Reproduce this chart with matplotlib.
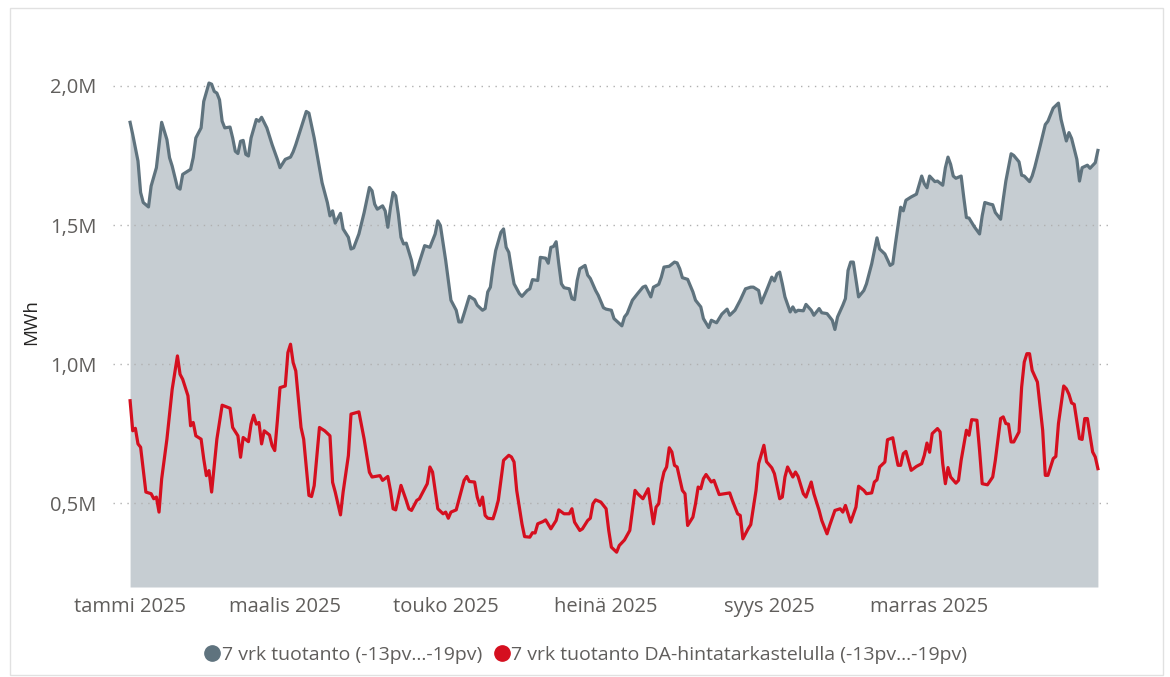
import numpy as np
import pandas as pd
import matplotlib
matplotlib.use('Agg')
import matplotlib.pyplot as plt
import matplotlib.dates as mdates
from matplotlib.lines import Line2D
from matplotlib.patches import Rectangle

# päivät vuoden 2025 alusta, arvot miljoonina MWh
total_days = [0, 1, 3, 4, 5, 7, 8, 10, 11, 12, 14, 15, 16, 18, 19, 20, 22, 23, 24, 25,
              27, 28, 30, 31, 32, 33, 34, 35, 36, 38, 39, 40, 41, 42, 43, 44, 45, 46, 48, 49,
              50, 52, 54, 56, 57, 59, 61, 62, 63, 65, 67, 68, 70, 73, 75, 76, 77, 78, 80, 81,
              83, 84, 85, 87, 89, 90, 91, 92, 93, 94, 96, 97, 98, 99, 100, 101, 102, 103, 104, 105,
              107, 108, 109, 110, 112, 114, 116, 117, 118, 120, 121, 122, 124, 125, 126, 127, 129, 131, 132, 134,
              135, 136, 137, 138, 139, 141, 142, 143, 144, 145, 146, 148, 149, 151, 152, 153, 155, 156, 158, 159,
              160, 161, 162, 163, 164, 165, 167, 168, 169, 170, 171, 173, 174, 175, 177, 178, 180, 181, 183, 184,
              187, 188, 189, 191, 193, 195, 196, 198, 199, 201, 202, 203, 205, 207, 208, 209, 210, 212, 214, 215,
              217, 218, 220, 221, 223, 225, 227, 228, 230, 232, 234, 236, 237, 239, 240, 242, 244, 245, 246, 247,
              248, 249, 251, 252, 253, 254, 256, 257, 259, 260, 262, 263, 265, 267, 268, 269, 271, 272, 273, 274,
              275, 277, 279, 280, 282, 284, 285, 287, 289, 290, 291, 293, 294, 295, 297, 299, 301, 302, 303, 304,
              306, 307, 309, 310, 311, 312, 313, 314, 316, 317, 318, 319, 321, 323, 324, 325, 327, 328, 329, 331,
              332, 333, 335, 336, 338, 339, 340, 342, 343, 344, 346, 348, 349, 351, 353, 354, 356, 357, 358, 360,
              361, 362, 364, 365, 367, 368]
total_values = [1.869, 1.825, 1.730, 1.617, 1.581, 1.565, 1.640, 1.706, 1.789, 1.869, 1.807, 1.742, 1.712, 1.635, 1.629, 1.682, 1.694, 1.700, 1.742, 1.813,
                1.849, 1.944, 2.010, 2.006, 1.980, 1.974, 1.950, 1.873, 1.849, 1.852, 1.813, 1.765, 1.757, 1.801, 1.804, 1.754, 1.748, 1.813, 1.879, 1.873,
                1.887, 1.849, 1.789, 1.736, 1.706, 1.736, 1.744, 1.763, 1.789, 1.849, 1.908, 1.902, 1.813, 1.652, 1.581, 1.533, 1.551, 1.507, 1.542, 1.486,
                1.456, 1.414, 1.418, 1.468, 1.545, 1.590, 1.635, 1.623, 1.575, 1.557, 1.569, 1.551, 1.492, 1.563, 1.617, 1.605, 1.539, 1.456, 1.432, 1.435,
                1.373, 1.321, 1.337, 1.367, 1.426, 1.420, 1.468, 1.515, 1.498, 1.373, 1.301, 1.230, 1.194, 1.152, 1.152, 1.182, 1.244, 1.232, 1.212, 1.194,
                1.200, 1.260, 1.277, 1.349, 1.408, 1.474, 1.486, 1.420, 1.402, 1.343, 1.289, 1.254, 1.244, 1.265, 1.271, 1.304, 1.301, 1.384, 1.381, 1.363,
                1.420, 1.423, 1.440, 1.361, 1.289, 1.275, 1.271, 1.236, 1.232, 1.301, 1.343, 1.355, 1.320, 1.308, 1.265, 1.248, 1.203, 1.198, 1.194, 1.164,
                1.138, 1.170, 1.182, 1.230, 1.254, 1.277, 1.281, 1.242, 1.277, 1.287, 1.313, 1.349, 1.352, 1.367, 1.364, 1.343, 1.311, 1.305, 1.260, 1.230,
                1.206, 1.164, 1.132, 1.158, 1.149, 1.180, 1.198, 1.176, 1.194, 1.230, 1.271, 1.277, 1.277, 1.265, 1.220, 1.265, 1.313, 1.299, 1.325, 1.331,
                1.289, 1.242, 1.188, 1.206, 1.188, 1.194, 1.192, 1.215, 1.194, 1.176, 1.200, 1.185, 1.182, 1.158, 1.125, 1.170, 1.212, 1.236, 1.337, 1.367,
                1.367, 1.242, 1.265, 1.289, 1.361, 1.454, 1.414, 1.396, 1.355, 1.361, 1.432, 1.564, 1.551, 1.589, 1.601, 1.611, 1.676, 1.648, 1.634, 1.676,
                1.656, 1.658, 1.643, 1.706, 1.744, 1.718, 1.676, 1.668, 1.676, 1.599, 1.527, 1.525, 1.494, 1.468, 1.533, 1.581, 1.575, 1.573, 1.545, 1.521,
                1.592, 1.658, 1.756, 1.750, 1.727, 1.679, 1.676, 1.656, 1.676, 1.708, 1.783, 1.861, 1.873, 1.920, 1.938, 1.879, 1.802, 1.832, 1.811, 1.736,
                1.658, 1.706, 1.715, 1.704, 1.724, 1.768]

da_days = [0, 1, 2, 3, 4, 6, 8, 9, 10, 11, 12, 14, 16, 18, 19, 20, 22, 23, 24, 25,
           27, 28, 29, 30, 31, 33, 35, 38, 39, 41, 42, 43, 45, 46, 47, 48, 49, 50, 51, 53,
           54, 55, 56, 57, 59, 60, 61, 62, 63, 65, 66, 68, 69, 70, 72, 74, 76, 77, 78, 80,
           81, 83, 84, 87, 89, 91, 92, 95, 96, 98, 99, 100, 101, 103, 105, 106, 107, 109, 110, 112,
           113, 114, 115, 117, 119, 120, 121, 122, 124, 126, 127, 128, 129, 131, 132, 133, 134, 135, 136, 138,
           139, 140, 141, 142, 144, 145, 146, 147, 149, 150, 152, 153, 154, 155, 157, 158, 160, 162, 163, 165,
           167, 168, 169, 171, 172, 174, 175, 176, 177, 179, 181, 182, 183, 185, 186, 188, 190, 192, 193, 195,
           196, 197, 199, 200, 201, 202, 203, 204, 205, 206, 207, 208, 210, 211, 212, 214, 215, 216, 217, 218,
           219, 221, 222, 224, 228, 229, 231, 232, 233, 235, 236, 238, 239, 241, 242, 244, 245, 247, 248, 249,
           250, 252, 253, 254, 256, 257, 259, 260, 262, 263, 265, 266, 268, 270, 271, 272, 274, 276, 277, 279,
           280, 282, 283, 284, 285, 287, 288, 290, 291, 292, 293, 294, 295, 297, 299, 301, 302, 303, 304, 305,
           307, 308, 309, 310, 311, 312, 314, 315, 316, 318, 319, 320, 322, 323, 324, 326, 328, 329, 331, 332,
           333, 334, 335, 336, 338, 339, 340, 341, 342, 343, 345, 347, 348, 349, 351, 352, 353, 355, 356, 357,
           358, 359, 361, 362, 363, 364, 366, 367, 368]
da_values = [0.869, 0.761, 0.770, 0.714, 0.702, 0.541, 0.535, 0.517, 0.523, 0.469, 0.588, 0.731, 0.910, 1.030, 0.964, 0.946, 0.887, 0.779, 0.791, 0.743,
             0.731, 0.660, 0.600, 0.618, 0.541, 0.731, 0.853, 0.842, 0.773, 0.743, 0.666, 0.737, 0.722, 0.785, 0.817, 0.785, 0.791, 0.714, 0.761, 0.746,
             0.708, 0.690, 0.797, 0.916, 0.922, 1.042, 1.072, 1.006, 0.976, 0.773, 0.731, 0.529, 0.525, 0.564, 0.773, 0.761, 0.743, 0.576, 0.541, 0.459,
             0.541, 0.672, 0.821, 0.829, 0.731, 0.612, 0.595, 0.600, 0.583, 0.597, 0.547, 0.481, 0.477, 0.565, 0.511, 0.481, 0.475, 0.511, 0.517, 0.553,
             0.571, 0.631, 0.613, 0.481, 0.463, 0.469, 0.447, 0.469, 0.477, 0.547, 0.583, 0.597, 0.579, 0.577, 0.523, 0.493, 0.523, 0.457, 0.447, 0.445,
             0.475, 0.511, 0.583, 0.655, 0.673, 0.667, 0.649, 0.547, 0.427, 0.381, 0.379, 0.395, 0.394, 0.427, 0.435, 0.441, 0.409, 0.439, 0.477, 0.463,
             0.463, 0.481, 0.433, 0.403, 0.409, 0.439, 0.447, 0.499, 0.513, 0.505, 0.481, 0.403, 0.343, 0.325, 0.349, 0.369, 0.403, 0.547, 0.535, 0.517,
             0.535, 0.553, 0.427, 0.487, 0.499, 0.571, 0.613, 0.631, 0.700, 0.685, 0.637, 0.631, 0.547, 0.535, 0.421, 0.451, 0.499, 0.559, 0.553, 0.589,
             0.604, 0.577, 0.583, 0.532, 0.538, 0.511, 0.463, 0.457, 0.373, 0.409, 0.424, 0.547, 0.643, 0.709, 0.650, 0.628, 0.607, 0.517, 0.523, 0.595,
             0.631, 0.595, 0.613, 0.597, 0.535, 0.523, 0.577, 0.535, 0.475, 0.439, 0.391, 0.421, 0.475, 0.481, 0.469, 0.493, 0.433, 0.487, 0.562, 0.547,
             0.535, 0.538, 0.577, 0.585, 0.631, 0.649, 0.729, 0.736, 0.684, 0.637, 0.637, 0.679, 0.687, 0.619, 0.633, 0.643, 0.673, 0.717, 0.684, 0.751,
             0.769, 0.757, 0.643, 0.571, 0.629, 0.595, 0.573, 0.583, 0.655, 0.763, 0.745, 0.801, 0.799, 0.691, 0.571, 0.567, 0.595, 0.655, 0.805, 0.811,
             0.787, 0.785, 0.721, 0.721, 0.757, 0.918, 1.008, 1.038, 1.038, 0.978, 0.936, 0.763, 0.601, 0.601, 0.661, 0.669, 0.787, 0.922, 0.912, 0.892,
             0.861, 0.856, 0.733, 0.730, 0.805, 0.805, 0.685, 0.667, 0.625]

tick_dates = ['2025-01-01', '2025-03-01', '2025-05-01', '2025-07-01', '2025-09-01', '2025-11-01']
tick_labels = ['tammi 2025', 'maalis 2025', 'touko 2025', 'heinä 2025', 'syys 2025', 'marras 2025']
y_ticks = [0.5, 1.0, 1.5, 2.0]
y_labels = ['0,5M', '1,0M', '1,5M', '2,0M']
series_names = ['7 vrk tuotanto (-13pv...-19pv)',
                '7 vrk tuotanto DA-hintatarkastelulla (-13pv...-19pv)']

start = pd.Timestamp('2025-01-01')
total_x = start + pd.to_timedelta(total_days, unit='D')
da_x = start + pd.to_timedelta(da_days, unit='D')

plt.rcParams['font.family'] = ['Open Sans', 'DejaVu Sans']

gray_line = '#5f737e'
gray_fill = '#c6cdd2'
red = '#d50f1f'
text_col = '#605e5c'

fig = plt.figure(figsize=(11.7, 6.77), dpi=100)
ax = fig.add_axes([113 / 1170, 1 - 587 / 677, (1110 - 113) / 1170, (587 - 58) / 677])

ax.fill_between(total_x, 0.2, total_values, color=gray_fill, lw=0, zorder=1)
ax.plot(total_x, total_values, color=gray_line, lw=2.3, zorder=3)
ax.plot(da_x, da_values, color=red, lw=2.3, zorder=4)

ax.set_ylim(0.2, 2.1)
ax.set_xlim(start - pd.Timedelta(days=6.5), start + pd.Timedelta(days=372.6))

ax.set_yticks(y_ticks)
ax.set_yticklabels(y_labels)
ax.set_xticks(pd.to_datetime(tick_dates))
ax.set_xticklabels(tick_labels)
ax.tick_params(axis='x', length=0, pad=7, labelsize=14.5, labelcolor=text_col)
ax.tick_params(axis='y', length=0, pad=12, labelsize=14.5, labelcolor=text_col)
ax.grid(axis='y', linestyle=(0, (1, 4)), color='#b0b0b0', lw=1.0, zorder=2)
ax.grid(axis='x', visible=False)
for s in ax.spines.values():
    s.set_visible(False)
ax.set_ylabel('MWh', fontsize=13.5, color='#252423', labelpad=7)

handles = [Line2D([], [], marker='o', ls='', color=gray_line, markersize=11),
           Line2D([], [], marker='o', ls='', color=red, markersize=11)]
fig.legend(handles, series_names, loc='center', bbox_to_anchor=(0.5, 1 - 655 / 677),
           ncol=2, frameon=False, fontsize=14, labelcolor=text_col,
           handletextpad=0.0, columnspacing=0.5, handlelength=1.0)

fig.patches.append(Rectangle((10 / 1170, 1 - 675 / 677), 1153 / 1170, 667 / 677,
                             transform=fig.transFigure, fill=False, ec='#e1e1e1', lw=1))

fig.savefig('out.png', dpi=100)
